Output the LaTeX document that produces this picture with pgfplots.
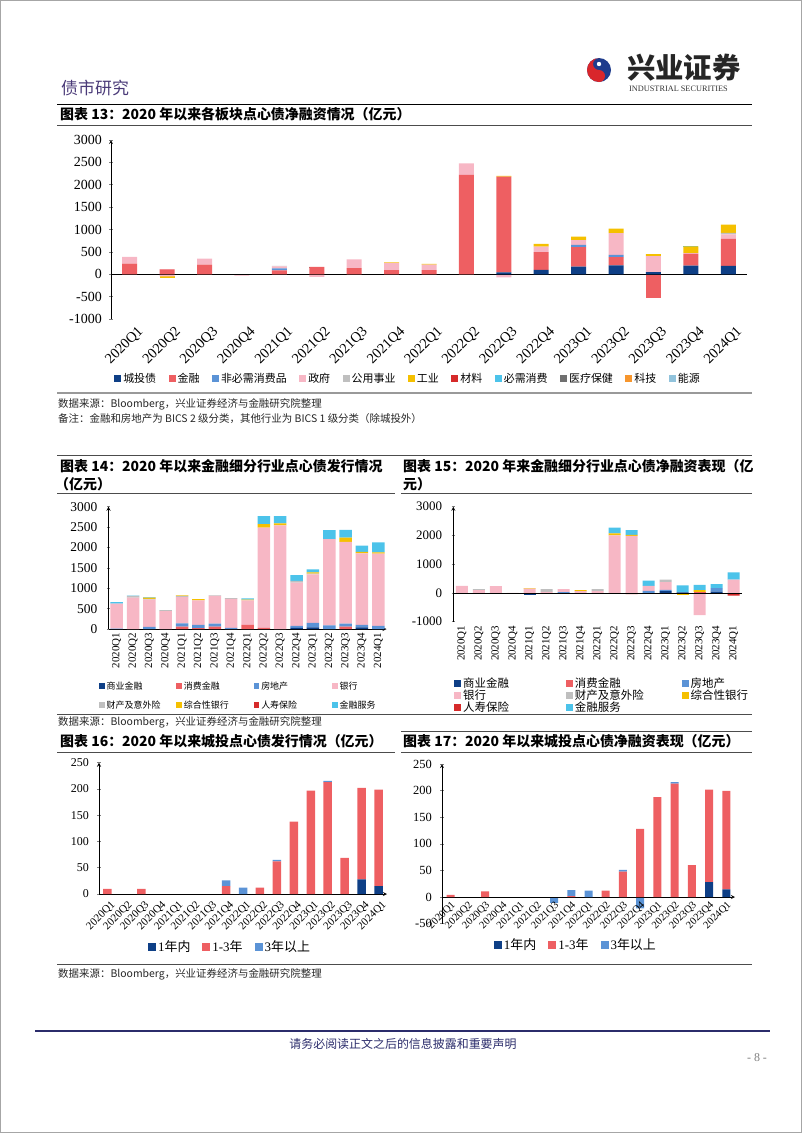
\documentclass[border=0pt]{standalone}
\usepackage{fontspec}
\setmainfont{Liberation Serif}
\newfontfamily\cjk{Noto Sans CJK SC}
\usepackage{pgfplots}
\usepackage{pgfplotstable}
\pgfplotsset{compat=1.18}

\definecolor{cA}{HTML}{0E3F86}
\definecolor{cB}{HTML}{EE5F62}
\definecolor{cC}{HTML}{5B93D6}
\definecolor{cD}{HTML}{F7B7C5}
\definecolor{cE}{HTML}{BFBFBF}
\definecolor{cF}{HTML}{F5C000}
\definecolor{cG}{HTML}{D62A2A}
\definecolor{cH}{HTML}{4CC3EA}
\definecolor{cI}{HTML}{707070}
\definecolor{cJ}{HTML}{F7962D}
\definecolor{cK}{HTML}{91C3DC}
\definecolor{hdr}{HTML}{4A3A78}
\definecolor{footnavy}{HTML}{2B2C6B}
\definecolor{logored}{HTML}{D9262B}
\definecolor{logoblue}{HTML}{1F3C8C}

% Chart 13: net financing by sector (positive parts)
\pgfplotstableread{
x a b c d e f g h i j k
0 0 240 0 150 0 0 0 0 0 0 0
1 0 110 0 5 0 0 0 0 0 0 0
2 0 215 0 135 0 0 0 0 0 0 0
3 0 0 0 0 0 0 0 0 0 0 0
4 0 85 45 45 10 0 0 0 0 0 0
5 0 165 0 0 0 0 0 0 5 0 0
6 0 135 0 195 0 0 0 0 0 0 0
7 0 95 0 160 0 10 0 0 0 0 0
8 0 95 0 120 0 15 0 0 0 0 0
9 0 2220 0 260 0 0 0 0 0 0 0
10 40 2140 0 0 0 20 0 0 0 0 0
11 100 395 0 125 0 60 0 0 0 0 0
12 170 435 50 110 0 75 0 0 0 0 0
13 200 185 50 487 0 95 0 0 0 0 0
14 50 0 0 355 0 45 0 0 0 0 0
15 195 258 0 22 0 147 0 15 0 0 0
16 185 605 0 104 30 184 0 0 0 0 0
}\tAp
% Chart 13 negative parts
\pgfplotstableread{
x b d f
1 0 -50 -40
3 0 -30 0
5 0 -60 0
6 0 -15 0
10 0 -70 0
14 -520 0 0
}\tAn
% Chart 14: financial sub-sector issuance
\pgfplotstableread{
x a b c d e f g h
0 0 0 10 610 0 0 0 40
1 0 0 0 770 40 0 0 10
2 0 0 50 670 20 30 0 10
3 0 0 0 440 25 0 0 0
4 0 60 80 640 30 15 0 0
5 0 20 80 600 0 35 0 0
6 0 60 70 685 10 0 0 0
7 0 0 30 710 20 0 0 0
8 0 100 0 600 0 20 0 30
9 0 30 0 2460 0 80 0 200
10 0 0 0 2540 0 50 0 180
11 30 0 50 1060 40 0 0 140
12 40 0 110 1190 20 30 0 75
13 0 0 90 2115 0 0 0 220
14 0 60 70 2010 0 100 0 190
15 40 0 60 1755 0 40 0 150
16 0 0 80 1770 0 30 0 245
}\tBp
% Chart 15: financial sub-sector net financing (positive)
\pgfplotstableread{
x a b c d e f g h
0 0 0 0 250 0 0 0 0
1 0 0 0 100 35 0 0 0
2 0 0 0 240 0 0 0 0
3 0 0 0 0 0 0 0 0
4 0 0 0 150 0 20 0 0
5 0 0 0 40 90 0 0 0
6 0 0 30 100 0 0 0 0
7 0 0 0 60 0 40 0 0
8 0 0 0 60 70 0 0 0
9 0 0 0 2000 0 70 0 200
10 0 0 0 1990 0 30 0 170
11 0 0 70 180 0 0 0 175
12 60 0 50 270 80 0 0 0
13 20 0 0 0 0 0 0 245
14 0 40 0 0 0 60 0 180
15 50 0 120 0 0 0 0 140
16 0 0 0 460 0 0 0 255
}\tCp
\pgfplotstableread{
x a b d f g
3 0 0 -15 0 0
4 -70 0 0 0 0
10 0 0 0 0 -40
13 0 0 0 -60 0
14 0 0 -770 0 0
16 0 -40 0 0 -50
}\tCn
% Chart 16: LGFV issuance by tenor
\pgfplotstableread{
x a b c
0 0 10 0
1 0 0 0
2 0 10 0
3 0 0 0
4 0 0 0
5 0 0 0
6 0 0 0
7 0 15 11
8 0 0 12
9 0 12 0
10 0 62 3
11 0 138 0
12 0 197 0
13 0 213 2.5
14 0 69 0
15 28 174 0
16 15 184 0
}\tD
% Chart 17: LGFV net financing by tenor
\pgfplotstableread{
x a b c
0 0 4 0
1 0 0 0
2 0 11 0
3 0 0 0
4 0 0 0
5 0 0 0
6 0 0 0
7 0 2 11
8 0 0 12
9 0 12 0
10 0 48 3
11 0 128 0
12 0 188 0
13 0 213 3
14 0 60 0
15 28 174 0
16 14.5 185 0
}\tEp
\pgfplotstableread{
x c
6 -11
11 -21
}\tEn

\pgfplotsset{
  base/.style={scale only axis, ybar stacked, xmin=-0.5, xmax=16.5,
    xtick={0,...,16},
    xticklabels={2020Q1,2020Q2,2020Q3,2020Q4,2021Q1,2021Q2,2021Q3,2021Q4,2022Q1,2022Q2,2022Q3,2022Q4,2023Q1,2023Q2,2023Q3,2023Q4,2024Q1},
    axis line style={-, line width=0.8bp}, tick align=outside, major tick length=3.5bp,
    major x tick style={draw=none}, tick style={line width=0.6bp},
    /pgf/number format/assume math mode=true, /pgf/number format/1000 sep={},
    legend image code/.code={\fill[##1] (0bp,-3.5bp) rectangle (7bp,3.5bp);},
    legend cell align=left, clip=false},
  neg/.style={base, hide axis},
}

\begin{document}
\begin{tikzpicture}
\begin{scope}[x=1bp,y=1bp]
\path[use as bounding box] (0,0) rectangle (802,-1133);
\draw[gray!70, line width=1bp] (0.5,-0.5) rectangle (801.5,-1132.5);
% header
\node[anchor=west, inner sep=0, text=hdr, font=\cjk\fontsize{17}{17}\selectfont] at (61,-88) {债市研究};
\fill[logoblue] (599,-70) circle (12);
\fill[logored] (599,-58) arc (90:270:12) arc (-90:90:6) arc (270:90:6) -- cycle;
\fill[white] (599,-64) circle (2.2);
\node[anchor=west, inner sep=0, font=\cjk\bfseries\fontsize{28.5}{28.5}\selectfont, text=black!85] at (627,-68) {兴业证券};
\node[anchor=west, inner sep=0, font=\fontsize{8.3}{8.3}\selectfont, text=black!80] at (629,-88.5) {INDUSTRIAL SECURITIES};
\draw[line width=1.8bp] (57,-104.5) -- (752,-104.5);
\node[anchor=west, inner sep=0, font=\cjk\bfseries\fontsize{14}{14}\selectfont] at (60,-114) {图表 13：2020 年以来各板块点心债净融资情况（亿元）};
\draw[black!70, line width=0.8bp] (57,-125) -- (752,-125);
% chart 13 footnotes
\draw[gray!80, line width=1.6bp] (57,-393) -- (752,-393);
\node[anchor=west, inner sep=0, font=\cjk\fontsize{10.5}{10.5}\selectfont, text=black!85] at (58,-404) {数据来源：Bloomberg，兴业证券经济与金融研究院整理};
\node[anchor=west, inner sep=0, font=\cjk\fontsize{10.5}{10.5}\selectfont, text=black!85] at (58,-419) {备注：金融和房地产为 BICS 2 级分类，其他行业为 BICS 1 级分类（除城投外）};
% charts 14/15 headers
\draw[black!70, line width=0.8bp] (57,-455) -- (752,-455);
\node[anchor=west, inner sep=0, font=\cjk\bfseries\fontsize{14}{14}\selectfont] at (60,-466) {图表 14：2020 年以来金融细分行业点心债发行情况};
\node[anchor=west, inner sep=0, font=\cjk\bfseries\fontsize{14}{14}\selectfont] at (55,-484) {（亿元）};
\node[anchor=west, inner sep=0, font=\cjk\bfseries\fontsize{14}{14}\selectfont] at (403,-466) {图表 15：2020 年来金融细分行业点心债净融资表现（亿};
\node[anchor=west, inner sep=0, font=\cjk\bfseries\fontsize{14}{14}\selectfont] at (403,-484) {元）};
\draw[black!70, line width=0.8bp] (57,-493) -- (395,-493);
\draw[black!70, line width=0.8bp] (401,-493) -- (752,-493);
\draw[black!70, line width=0.8bp] (57,-714) -- (752,-714);
\node[anchor=west, inner sep=0, font=\cjk\fontsize{10.5}{10.5}\selectfont, text=black!85] at (58,-722) {数据来源：Bloomberg，兴业证券经济与金融研究院整理};
% charts 16/17 headers
\draw[black!70, line width=0.8bp] (401,-731) -- (752,-731);
\node[anchor=west, inner sep=0, font=\cjk\bfseries\fontsize{14}{14}\selectfont] at (60,-741) {图表 16：2020 年以来城投点心债发行情况（亿元）};
\node[anchor=west, inner sep=0, font=\cjk\bfseries\fontsize{14}{14}\selectfont] at (403,-741) {图表 17：2020 年以来城投点心债净融资表现（亿元）};
\draw[black!70, line width=0.8bp] (57,-752) -- (395,-752);
\draw[black!70, line width=0.8bp] (401,-752) -- (752,-752);
\draw[black!70, line width=0.8bp] (57,-964) -- (752,-964);
\node[anchor=west, inner sep=0, font=\cjk\fontsize{10.5}{10.5}\selectfont, text=black!85] at (58,-974) {数据来源：Bloomberg，兴业证券经济与金融研究院整理};
% footer
\draw[footnavy, line width=2.5bp] (35,-1031) -- (770,-1031);
\node[inner sep=0, font=\cjk\fontsize{12}{12}\selectfont, text=footnavy] at (403,-1044) {请务必阅读正文之后的信息披露和重要声明};
\node[inner sep=0, font=\fontsize{12}{12}\selectfont, text=gray] at (757,-1058) {- 8 -};
\end{scope}

% ===== Chart 13 =====
\begin{axis}[neg, at={(111bp,-319bp)}, anchor=south west, width=636bp, height=179bp, bar width=15bp,
  ymin=-1000, ymax=3000]
\addplot[fill=cB, draw=none] table[x=x,y=b]{\tAn};
\addplot[fill=cD, draw=none] table[x=x,y=d]{\tAn};
\addplot[fill=cF, draw=none] table[x=x,y=f]{\tAn};
\end{axis}
\begin{axis}[base, at={(111bp,-319bp)}, anchor=south west, width=636bp, height=179bp, bar width=15bp,
  ymin=-1000, ymax=3000, ytick={-1000,-500,...,3000},
  axis y line=left, axis x line=bottom, x axis line style={draw=none},
  yticklabel style={font=\fontsize{14}{14}\selectfont, xshift=-4bp},
  xticklabel style={font=\fontsize{14.5}{14.5}\selectfont, rotate=45, anchor=north east, inner sep=1bp, xshift=3bp, yshift=-7bp},
  legend columns=11,
  legend style={at={(axis description cs:0.467,-0.335)}, anchor=center, draw=none, fill=none,
    font=\cjk\fontsize{11}{11}\selectfont, /tikz/every even column/.append style={column sep=10.5bp}}]
\addplot[fill=cA, draw=none] table[x=x,y=a]{\tAp};
\addplot[fill=cB, draw=none] table[x=x,y=b]{\tAp};
\addplot[fill=cC, draw=none] table[x=x,y=c]{\tAp};
\addplot[fill=cD, draw=none] table[x=x,y=d]{\tAp};
\addplot[fill=cE, draw=none] table[x=x,y=e]{\tAp};
\addplot[fill=cF, draw=none] table[x=x,y=f]{\tAp};
\addplot[fill=cG, draw=none] table[x=x,y=g]{\tAp};
\addplot[fill=cH, draw=none] table[x=x,y=h]{\tAp};
\addplot[fill=cI, draw=none] table[x=x,y=i]{\tAp};
\addplot[fill=cJ, draw=none] table[x=x,y=j]{\tAp};
\addplot[fill=cK, draw=none] table[x=x,y=k]{\tAp};
\legend{城投债,金融,非必需消费品,政府,公用事业,工业,材料,必需消费,医疗保健,科技,能源}
\draw[line width=0.8bp] (axis cs:-0.5,0) -- (axis cs:16.5,0);
\end{axis}

% ===== Chart 14 =====
\begin{axis}[base, at={(108.5bp,-629bp)}, anchor=south west, width=278bp, height=122.3bp, bar width=12.5bp,
  ymin=0, ymax=3000, ytick={0,500,...,3000},
  axis y line=left, axis x line=bottom,
  yticklabel style={font=\fontsize{13.5}{13.5}\selectfont, xshift=-6bp},
  xticklabel style={font=\fontsize{11}{11}\selectfont, rotate=90, anchor=east, inner sep=2bp},
  legend image code/.code={\fill[#1] (0bp,-2.75bp) rectangle (5.5bp,2.75bp);},
  legend columns=4,
  legend style={at={(axis description cs:-0.045,-0.544)}, anchor=west, draw=none, fill=none,
    font=\cjk\fontsize{9}{9}\selectfont, row sep=6bp,
    /tikz/column 2/.style={column sep=14bp}, /tikz/column 4/.style={column sep=23bp},
    /tikz/column 6/.style={column sep=33bp}}]
\addplot[fill=cA, draw=none] table[x=x,y=a]{\tBp};
\addplot[fill=cB, draw=none] table[x=x,y=b]{\tBp};
\addplot[fill=cC, draw=none] table[x=x,y=c]{\tBp};
\addplot[fill=cD, draw=none] table[x=x,y=d]{\tBp};
\addplot[fill=cE, draw=none] table[x=x,y=e]{\tBp};
\addplot[fill=cF, draw=none] table[x=x,y=f]{\tBp};
\addplot[fill=cG, draw=none] table[x=x,y=g]{\tBp};
\addplot[fill=cH, draw=none] table[x=x,y=h]{\tBp};
\legend{商业金融,消费金融,房地产,银行,财产及意外险,综合性银行,人寿保险,金融服务}
\end{axis}

% ===== Chart 15 =====
\begin{axis}[neg, at={(453.3bp,-621.7bp)}, anchor=south west, width=288.7bp, height=115bp, bar width=12bp,
  ymin=-1000, ymax=3000]
\addplot[fill=cA, draw=none] table[x=x,y=a]{\tCn};
\addplot[fill=cB, draw=none] table[x=x,y=b]{\tCn};
\addplot[fill=cD, draw=none] table[x=x,y=d]{\tCn};
\addplot[fill=cF, draw=none] table[x=x,y=f]{\tCn};
\addplot[fill=cG, draw=none] table[x=x,y=g]{\tCn};
\end{axis}
\begin{axis}[base, at={(453.3bp,-621.7bp)}, anchor=south west, width=288.7bp, height=115bp, bar width=12bp,
  ymin=-1000, ymax=3000, ytick={-1000,0,1000,2000,3000},
  axis y line=left, axis x line=bottom, x axis line style={draw=none},
  yticklabel style={font=\fontsize{13}{13}\selectfont, xshift=-6bp},
  xticklabel style={font=\fontsize{11}{11}\selectfont, rotate=90, anchor=east, inner sep=2bp},
  legend columns=3,
  legend style={at={(axis description cs:-0.008,-0.641)}, anchor=west, draw=none, fill=none,
    font=\cjk\fontsize{11.5}{11.5}\selectfont, row sep=-3bp,
    /tikz/column 2/.style={column sep=55bp}, /tikz/column 4/.style={column sep=36bp}}]
\addplot[fill=cA, draw=none] table[x=x,y=a]{\tCp};
\addplot[fill=cB, draw=none] table[x=x,y=b]{\tCp};
\addplot[fill=cC, draw=none] table[x=x,y=c]{\tCp};
\addplot[fill=cD, draw=none] table[x=x,y=d]{\tCp};
\addplot[fill=cE, draw=none] table[x=x,y=e]{\tCp};
\addplot[fill=cF, draw=none] table[x=x,y=f]{\tCp};
\addplot[fill=cG, draw=none] table[x=x,y=g]{\tCp};
\addplot[fill=cH, draw=none] table[x=x,y=h]{\tCp};
\legend{商业金融,消费金融,房地产,银行,财产及意外险,综合性银行,人寿保险,金融服务}
\draw[line width=0.8bp] (axis cs:-0.5,0) -- (axis cs:16.5,0);
\end{axis}

% ===== Chart 16 =====
\begin{axis}[base, at={(99bp,-894bp)}, anchor=south west, width=288bp, height=131.3bp, bar width=8.5bp,
  ymin=0, ymax=250, ytick={0,50,...,250},
  axis y line=left, axis x line=bottom,
  yticklabel style={font=\fontsize{12}{12}\selectfont, xshift=-5bp},
  xticklabel style={font=\fontsize{11}{11}\selectfont, rotate=45, anchor=north east, inner sep=1bp, yshift=-4bp},
  legend image code/.code={\fill[#1] (0bp,-4bp) rectangle (8bp,4bp);},
  legend columns=3,
  legend style={at={(axis description cs:0.455,-0.401)}, anchor=center, draw=none, fill=none,
    font=\fontsize{13}{13}\selectfont, /tikz/every even column/.append style={column sep=10bp}}]
\addplot[fill=cA, draw=none] table[x=x,y=a]{\tD};
\addplot[fill=cB, draw=none] table[x=x,y=b]{\tD};
\addplot[fill=cC, draw=none] table[x=x,y=c]{\tD};
\legend{1{\cjk 年内},1-3{\cjk 年},3{\cjk 年以上}}
\end{axis}

% ===== Chart 17 =====
\begin{axis}[neg, at={(442bp,-923.7bp)}, anchor=south west, width=293bp, height=159.7bp, bar width=8bp,
  ymin=-50, ymax=250]
\addplot[fill=cC, draw=none] table[x=x,y=c]{\tEn};
\end{axis}
\begin{axis}[base, at={(442bp,-923.7bp)}, anchor=south west, width=293bp, height=159.7bp, bar width=8bp,
  ymin=-50, ymax=250, ytick={-50,0,...,250},
  axis y line=left, axis x line=middle,
  yticklabel style={font=\fontsize{12.5}{12.5}\selectfont, xshift=-5bp},
  xticklabel style={font=\fontsize{10.5}{10.5}\selectfont, rotate=45, anchor=north east, inner sep=1bp},
  legend image code/.code={\fill[#1] (0bp,-4bp) rectangle (8bp,4bp);},
  legend columns=3,
  legend style={at={(axis description cs:0.457,-0.133)}, anchor=center, draw=none, fill=none,
    font=\fontsize{13}{13}\selectfont, /tikz/every even column/.append style={column sep=10bp}}]
\addplot[fill=cA, draw=none] table[x=x,y=a]{\tEp};
\addplot[fill=cB, draw=none] table[x=x,y=b]{\tEp};
\addplot[fill=cC, draw=none] table[x=x,y=c]{\tEp};
\legend{1{\cjk 年内},1-3{\cjk 年},3{\cjk 年以上}}
\end{axis}
\end{tikzpicture}
\end{document}
